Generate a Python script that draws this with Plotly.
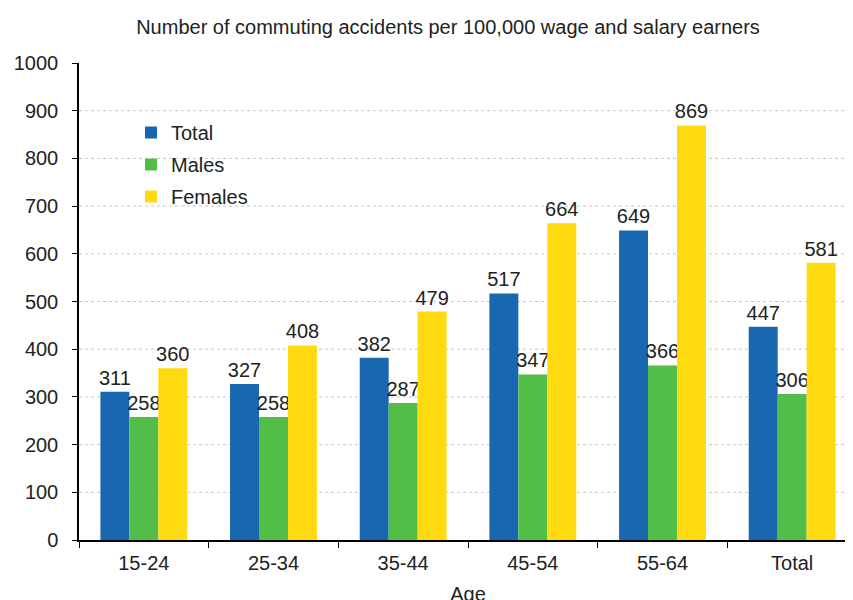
import plotly.graph_objects as go

categories = ["15-24", "25-34", "35-44", "45-54", "55-64", "Total"]
total = [311, 327, 382, 517, 649, 447]
males = [258, 258, 287, 347, 366, 306]
females = [360, 408, 479, 664, 869, 581]
y_ticks = list(range(0, 1001, 100))

series = [("Total", total, "#1a67b1"), ("Males", males, "#52be48"), ("Females", females, "#ffda10")]

FONT = "Liberation Sans, Arial, sans-serif"
fig = go.Figure()
for i, (name, vals, col) in enumerate(series):
    fig.add_trace(go.Bar(
        x=categories, y=vals, name=name, marker_color=col, marker_line_width=0,
        text=[str(v) for v in vals], textposition="outside", constraintext="none",
        textfont=dict(size=20, color="#222", family=FONT),
        cliponaxis=False, legendgroup=name,
    ))

# page body has an 8px margin; coordinates below are figure coordinates
W, H = 853, 600
L, R, T, B = 71, 4, 55, 68
PW, PH = W - L - R, H - T - B
for v in y_ticks[1:-1]:
    fig.add_shape(type="line", xref="paper", x0=0, x1=1, yref="y", y0=v, y1=v,
                  line=dict(color="#c8c8c8", width=1, dash="dot"), layer="below")

fig.update_layout(
    width=W, height=H,
    margin=dict(l=L, r=R, t=T, b=B, autoexpand=False),
    paper_bgcolor="white", plot_bgcolor="white",
    barmode="group", bargap=0.33, bargroupgap=0,
    font=dict(family=FONT, size=20, color="#222"),
    title=dict(text="Number of commuting accidents per 100,000 wage and salary earners",
               x=440 / W, xanchor="center", y=1 - 19 / H, yanchor="middle",
               font=dict(size=20, color="#222")),
    legend=dict(x=52 / PW, xanchor="left", y=1 - 50 / PH, yanchor="top",
                bgcolor="rgba(0,0,0,0)", font=dict(size=20), traceorder="grouped",
                tracegroupgap=3, itemwidth=30),
    showlegend=True,
)
fig.update_xaxes(
    range=[-0.5, 5.5], showline=True, linecolor="#000", linewidth=1.5,
    ticks="outside", tickson="boundaries", ticklen=6, tickcolor="#000",
    tickfont=dict(size=20), showgrid=False, automargin=False, ticklabelstandoff=4,
    title=dict(text="Age", standoff=14, font=dict(size=20)),
)
fig.update_yaxes(
    range=[0, 1000], tickvals=y_ticks, showline=True, linecolor="#000", linewidth=1.5,
    ticks="outside", ticklen=5, tickcolor="#000", tickfont=dict(size=20),
    showgrid=False, zeroline=False, automargin=False, ticklabelstandoff=10,
)
fig.write_html("out.html")
